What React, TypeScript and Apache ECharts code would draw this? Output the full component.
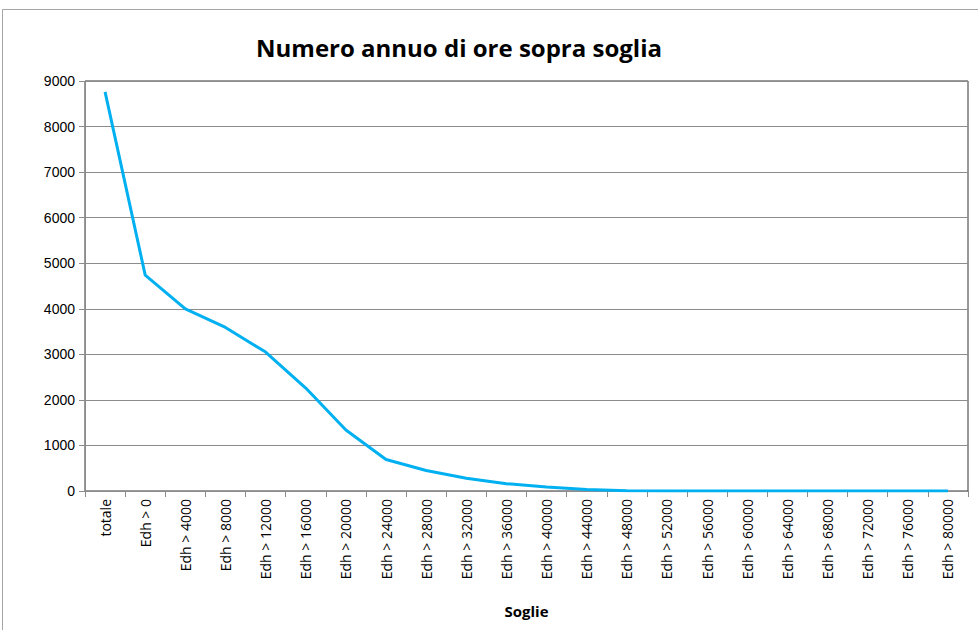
import React, { useEffect, useRef } from "react";
import * as echarts from "echarts";

const categories = [
  "totale", "Edh > 0", "Edh > 4000", "Edh > 8000", "Edh > 12000", "Edh > 16000",
  "Edh > 20000", "Edh > 24000", "Edh > 28000", "Edh > 32000", "Edh > 36000",
  "Edh > 40000", "Edh > 44000", "Edh > 48000", "Edh > 52000", "Edh > 56000",
  "Edh > 60000", "Edh > 64000", "Edh > 68000", "Edh > 72000", "Edh > 76000",
  "Edh > 80000",
];
const hoursAbove = [
  8760, 4740, 4000, 3590, 3050, 2260, 1340, 690, 450, 280, 160,
  90, 35, 8, 2, 0, 0, 0, 0, 0, 0, 0,
];
const titleText = "Numero annuo di ore sopra soglia";
const xAxisName = "Soglie";

export default function App() {
  const ref = useRef<HTMLDivElement>(null);
  useEffect(() => {
    document.body.style.margin = "0";
    const chart = echarts.init(ref.current!, null, { renderer: "svg" });
    chart.setOption({
      animation: false,
      backgroundColor: "#ffffff",
      title: {
        text: titleText,
        left: 454,
        textAlign: "center",
        top: 30,
        textStyle: {
          fontFamily: "Open Sans",
          fontWeight: "bold",
          fontSize: 24,
          color: "#000",
        },
      },
      graphic: [
        {
          type: "rect",
          shape: { x: 2.5, y: 9.5, width: 990, height: 640 },
          style: { fill: "none", stroke: "#a6a6a6", lineWidth: 1 },
          silent: true,
        },
      ],
      grid: {
        left: 85,
        right: 10,
        top: 81,
        bottom: 139,
        show: true,
        borderColor: "#333",
        borderWidth: 1,
      },
      xAxis: {
        type: "category",
        data: categories,
        boundaryGap: true,
        name: xAxisName,
        nameLocation: "middle",
        nameGap: 112,
        nameTextStyle: {
          fontFamily: "Open Sans",
          fontWeight: "bold",
          fontSize: 15,
          color: "#000",
        },
        axisLine: { lineStyle: { color: "#8c8c8c", width: 1 } },
        axisTick: { show: true, alignWithLabel: false, length: 6, lineStyle: { color: "#8c8c8c" } },
        axisLabel: {
          rotate: 90,
          interval: 0,
          margin: 8,
          fontFamily: "Open Sans",
          fontSize: 14,
          color: "#000",
        },
        splitLine: { show: false },
      },
      yAxis: {
        type: "value",
        min: 0,
        max: 9000,
        interval: 1000,
        axisLine: { show: true, lineStyle: { color: "#8c8c8c", width: 1 } },
        axisTick: { show: true, length: 6, lineStyle: { color: "#8c8c8c" } },
        axisLabel: {
          margin: 10,
          fontFamily: "Liberation Sans",
          fontSize: 14,
          color: "#000",
          formatter: (v: number) => String(v),
        },
        splitLine: { show: true, lineStyle: { color: "#8c8c8c", width: 1 } },
      },
      series: [
        {
          type: "line",
          data: hoursAbove,
          showSymbol: false,
          symbol: "none",
          lineStyle: { color: "#00b0f0", width: 3 },
          itemStyle: { color: "#00b0f0" },
        },
      ],
    });
    return () => chart.dispose();
  }, []);
  return <div ref={ref} style={{ width: 978, height: 630 }} />;
}
